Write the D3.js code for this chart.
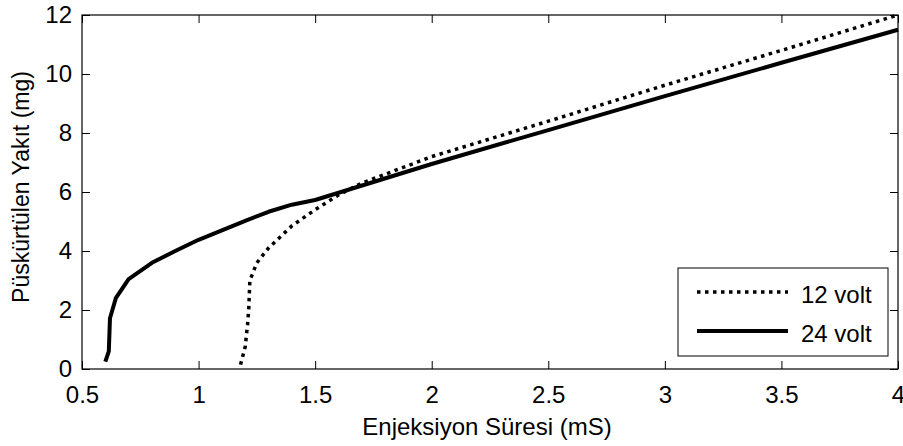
<!DOCTYPE html>
<html>
<head>
<meta charset="utf-8">
<script src="https://cdn.jsdelivr.net/npm/d3@7"></script>
<style>
  html, body { margin: 0; padding: 0; background: #fff; }
  svg { display: block; font-family: "Liberation Sans", Arial, sans-serif; }
</style>
</head>
<body>
<svg id="chart" width="903" height="446"></svg>
<script>
// Data
const xTicks = [0.5, 1, 1.5, 2, 2.5, 3, 3.5, 4];
const xTickLabels = ["0.5", "1", "1.5", "2", "2.5", "3", "3.5", "4"];
const yTicks = [0, 2, 4, 6, 8, 10, 12];
const yTickLabels = ["0", "2", "4", "6", "8", "10", "12"];

const volt12X = [1.18, 1.20, 1.21, 1.215, 1.22, 1.25, 1.30, 1.40, 1.50, 1.60, 1.70, 2.0, 2.5, 3.0, 3.5, 4.0];
const volt12Y = [0.15, 0.75, 1.50, 2.00, 3.00, 3.60, 4.10, 4.85, 5.40, 5.90, 6.30, 7.20, 8.40, 9.62, 10.80, 12.0];

const volt24X = [0.60, 0.615, 0.62, 0.645, 0.70, 0.80, 0.90, 1.00, 1.10, 1.20, 1.30, 1.40, 1.50, 2.0, 2.5, 3.0, 3.5, 4.0];
const volt24Y = [0.25, 0.60, 1.72, 2.40, 3.05, 3.60, 4.00, 4.38, 4.70, 5.02, 5.33, 5.57, 5.73, 6.95, 8.10, 9.25, 10.38, 11.50];

const seriesNames = ["12 volt", "24 volt"];
const xLabel = "Enjeksiyon Süresi (mS)";
const yLabel = "Püskürtülen Yakıt (mg)";

const svg = d3.select("#chart");
const L = 82, R = 898, T = 15, B = 369;
const x = d3.scaleLinear().domain([0.5, 4]).range([L, R]);
const y = d3.scaleLinear().domain([0, 12]).range([B, T]);
const fs = 24;
const tickLen = 8;
const font = '"Liberation Sans", Arial, sans-serif';

// Axes with inward ticks on all four sides
const gB = svg.append("g").attr("transform", `translate(0,${B})`)
  .call(d3.axisBottom(x).tickValues(xTicks).tickFormat((d, i) => xTickLabels[i]).tickSizeInner(-tickLen).tickSizeOuter(0).tickPadding(17));
const gT = svg.append("g").attr("transform", `translate(0,${T})`)
  .call(d3.axisTop(x).tickValues(xTicks).tickFormat("").tickSizeInner(-tickLen).tickSizeOuter(0));
const gL = svg.append("g").attr("transform", `translate(${L},0)`)
  .call(d3.axisLeft(y).tickValues(yTicks).tickFormat((d, i) => yTickLabels[i]).tickSizeInner(-tickLen).tickSizeOuter(0).tickPadding(10));
const gR = svg.append("g").attr("transform", `translate(${R},0)`)
  .call(d3.axisRight(y).tickValues(yTicks).tickFormat("").tickSizeInner(-tickLen).tickSizeOuter(0));

[gB, gT, gL, gR].forEach(g => {
  g.select(".domain").remove();
  g.selectAll("line").attr("stroke", "#000").attr("stroke-width", 1);
  g.selectAll("text").attr("fill", "#000").style("font-size", fs + "px").style("font-family", font);
});

// Box
svg.append("rect").attr("x", L).attr("y", T).attr("width", R - L).attr("height", B - T)
  .attr("fill", "none").attr("stroke", "#000").attr("stroke-width", 1.2);

// Lines
const line = d3.line().x(d => x(d[0])).y(d => y(d[1]));
const d12 = volt12X.map((v, i) => [v, volt12Y[i]]);
const d24 = volt24X.map((v, i) => [v, volt24Y[i]]);

svg.append("path").datum(d12).attr("d", line).attr("fill", "none")
  .attr("stroke", "#000").attr("stroke-width", 3.5).attr("stroke-dasharray", "3.5,4.5");
svg.append("path").datum(d24).attr("d", line).attr("fill", "none")
  .attr("stroke", "#000").attr("stroke-width", 4).attr("stroke-linejoin", "round");

// Axis labels
svg.append("text").attr("x", 487).attr("y", 435).attr("text-anchor", "middle")
  .style("font-size", fs + "px").style("font-family", font).attr("fill", "#000").text(xLabel);
svg.append("text").attr("transform", `translate(29,187) rotate(-90)`).attr("text-anchor", "middle")
  .style("font-size", "23px").style("font-family", font).attr("fill", "#000").text(yLabel);

// Legend
const lg = svg.append("g");
lg.append("rect").attr("x", 678).attr("y", 268).attr("width", 210).attr("height", 88)
  .attr("fill", "#fff").attr("stroke", "#000").attr("stroke-width", 1);
const legY = [292, 331];
seriesNames.forEach((name, i) => {
  lg.append("line").attr("x1", 697).attr("x2", 788).attr("y1", legY[i]).attr("y2", legY[i])
    .attr("stroke", "#000").attr("stroke-width", i === 0 ? 3.5 : 4)
    .attr("stroke-dasharray", i === 0 ? "3.5,4.5" : null);
  lg.append("text").attr("x", 801).attr("y", legY[i] + 11).style("font-size", fs + "px")
    .style("font-family", font).attr("fill", "#000").text(name);
});
</script>
</body>
</html>
